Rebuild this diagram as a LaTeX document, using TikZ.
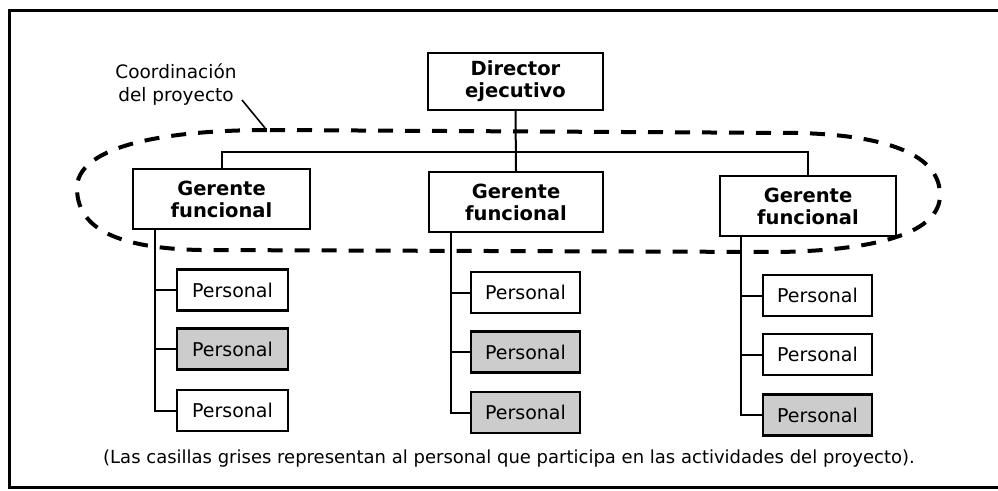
\documentclass[tikz,border=0pt]{standalone}
\usepackage{fontspec}
\setmainfont{DejaVu Sans}
\begin{document}
\begin{tikzpicture}[x=1pt,y=-1pt,
  box/.style={draw,line width=2.2pt,fill=white,align=center,inner sep=0pt},
  boss/.style={box,font=\fontsize{19.5}{22}\selectfont\bfseries},
  staff/.style={box,minimum height=41pt,font=\fontsize{19}{21}\selectfont},
  grey/.style={fill=black!20},
  conn/.style={line width=2pt},
  coord/.style={dash pattern=on 15pt off 12pt,line width=4pt},
  note/.style={font=\fontsize{18.5}{23}\selectfont,align=center}]
\useasboundingbox (0,0) rectangle (998,490);
\draw[line width=3pt] (998,10) -- (9,10) -- (9,487) -- (998,487);

\node[boss,minimum width=175pt,minimum height=57pt] (dir) at (515.5,81.5) {Director\\ejecutivo};
\node[boss,minimum width=177pt,minimum height=60pt] (g1) at (221.5,199) {Gerente\\funcional};
\node[boss,minimum width=174pt,minimum height=60pt] (g2) at (516,202) {Gerente\\funcional};
\node[boss,minimum width=176pt,minimum height=60pt] (g3) at (808,206) {Gerente\\funcional};

\node[staff,minimum width=111pt] (p11) at (232.5,290) {Personal};
\node[staff,grey,minimum width=111pt] (p12) at (232.5,349) {Personal};
\node[staff,minimum width=111pt] (p13) at (232.5,410.5) {Personal};
\node[staff,minimum width=109pt] (p21) at (525.5,292.5) {Personal};
\node[staff,grey,minimum width=109pt] (p22) at (525.5,352) {Personal};
\node[staff,grey,minimum width=109pt] (p23) at (525.5,412.5) {Personal};
\node[staff,minimum width=109pt] (p31) at (817.5,295.5) {Personal};
\node[staff,minimum width=109pt] (p32) at (817.5,354.5) {Personal};
\node[staff,grey,minimum width=109pt] (p33) at (817.5,415) {Personal};

\coordinate (bar) at (0,152);
\draw[conn] (dir.south) -- (g2.north);
\draw[conn] (g1.north) -- (g1.north|-bar) -- (g3.north|-bar) -- (g3.north);

\coordinate (v1) at (155,229);
\coordinate (v2) at (451,232);
\coordinate (v3) at (741,236);
\draw[conn] (v1) |- (p13.west);
\draw[conn] (v1|-p11.west) -- (p11.west);
\draw[conn] (v1|-p12.west) -- (p12.west);
\draw[conn] (v2) |- (p23.west);
\draw[conn] (v2|-p21.west) -- (p21.west);
\draw[conn] (v2|-p22.west) -- (p22.west);
\draw[conn] (v3) |- (p33.west);
\draw[conn] (v3|-p31.west) -- (p31.west);
\draw[conn] (v3|-p32.west) -- (p32.west);

\draw[coord] (270,130) -- (800,133)
  .. controls (900,136) and (940,160) .. (940,195)
  .. controls (940,232) and (880,250) .. (780,252)
  -- (200,250)
  .. controls (110,248) and (77,225) .. (77,188)
  .. controls (77,150) and (150,130) .. (270,130);

\node[note] (lab) at (176,85) {Coordinación\\del proyecto};
\coordinate (tip) at (265,128);
\draw[line width=1.6pt] (242,100) -- (tip);

\node[font=\fontsize{18}{21}\selectfont] (cap) at (509,459) {(Las casillas grises representan al personal que participa en las actividades del proyecto).};
\end{tikzpicture}
\end{document}
